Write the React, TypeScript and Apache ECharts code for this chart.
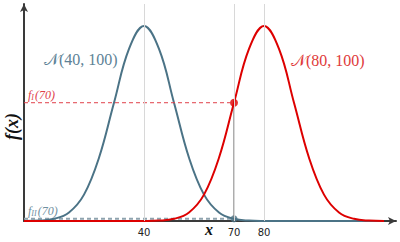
import React, { useEffect, useRef } from "react";
import * as echarts from "echarts";

const xs = [0, 5, 10, 15, 20, 25, 30, 35, 40, 45, 50, 55, 60, 65, 70, 75, 80, 85, 90, 95, 100, 105, 110, 115, 120];
const blueValues = [0.0000134, 0.0000873, 0.000443, 0.00175, 0.0054, 0.01295, 0.0242, 0.03521, 0.03989, 0.03521, 0.0242, 0.01295, 0.0054, 0.00175, 0.000443, 0.0000873, 0.0000134, 0, 0, 0, 0, 0, 0, 0, 0];
const redValues = [0, 0, 0, 0, 0, 0, 0, 0, 0.0000134, 0.0000873, 0.000443, 0.00175, 0.0054, 0.01295, 0.0242, 0.03521, 0.03989, 0.03521, 0.0242, 0.01295, 0.0054, 0.00175, 0.000443, 0.0000873, 0.0000134];
const tickLabels = [40, 70, 80];
const gridLines = [40, 70, 80];
const evalX = 70;
const fI70 = 0.0242;
const fII70 = 0.000443;

const BLUE = "#4b7386";
const RED = "#dd0000";

export default function App() {
  const ref = useRef<HTMLDivElement>(null);
  useEffect(() => {
    if (!ref.current) return;
    const chart = echarts.init(ref.current, undefined, { renderer: "svg" });
    const blueData = xs.map((x, i) => [x, blueValues[i]]);
    const redData = xs.map((x, i) => [x, redValues[i]]);
    chart.setOption({
      animation: false,
      grid: { left: 24, right: 4, top: 4, bottom: 21 },
      xAxis: {
        type: "value",
        min: 0,
        max: 124,
        axisLine: { lineStyle: { color: "#3a3a3a", width: 2 }, symbol: ["none", "arrow"], symbolSize: [6, 8] },
        axisTick: { show: false },
        splitLine: { show: false },
        axisLabel: { customValues: tickLabels, color: "#222", fontSize: 10, fontFamily: "DejaVu Sans", margin: 6 },
      },
      yAxis: {
        type: "value",
        min: 0,
        max: 0.0444,
        axisLine: { show: true, lineStyle: { color: "#3a3a3a", width: 2 }, symbol: ["none", "arrow"], symbolSize: [6, 8] },
        axisTick: { show: false },
        splitLine: { show: false },
        axisLabel: { show: false },
      },
      series: [
        {
          type: "line",
          data: [],
          markLine: {
            silent: true,
            symbol: "none",
            label: { show: false },
            lineStyle: { color: "#d8d8d8", width: 1, type: "solid" },
            data: gridLines.map((v) => ({ xAxis: v })),
          },
        },
        {
          type: "line",
          data: [[evalX, 0], [evalX, fI70]],
          showSymbol: false,
          lineStyle: { color: "#777", width: 1.2 },
        },
        {
          type: "line",
          data: [[0, fII70], [evalX, fII70]],
          showSymbol: false,
          lineStyle: { color: "#8fa3ae", width: 2, type: [4, 3] },
        },
        {
          type: "line",
          data: blueData,
          smooth: 0.4,
          showSymbol: false,
          lineStyle: { color: BLUE, width: 2 },
        },
        {
          type: "line",
          data: redData,
          smooth: 0.4,
          showSymbol: false,
          lineStyle: { color: RED, width: 2 },
        },
        {
          type: "line",
          data: [[0, fI70], [evalX, fI70]],
          showSymbol: false,
          lineStyle: { color: "#e0404a", width: 1, type: [4, 3] },
        },
        {
          type: "scatter",
          data: [[evalX, fII70]],
          symbolSize: 7,
          itemStyle: { color: BLUE },
        },
        {
          type: "scatter",
          data: [[evalX, fI70]],
          symbolSize: 8,
          itemStyle: { color: RED },
        },
      ],
      graphic: [
        {
          type: "text",
          x: 44,
          y: 51,
          style: { text: "𝒩(40, 100)", fill: "#5d8296", font: "16px 'Liberation Serif', 'DejaVu Serif', serif" },
        },
        {
          type: "text",
          x: 291,
          y: 52,
          style: { text: "𝒩(80, 100)", fill: "#e03a3a", font: "16px 'Liberation Serif', 'DejaVu Serif', serif" },
        },
        {
          type: "text",
          x: 28,
          y: 88,
          style: {
            text: "{f|f}{s|I}{n|(70)}",
            rich: {
              f: { fill: "#e04048", font: "italic 12px 'Liberation Serif', serif" },
              s: { fill: "#e04048", font: "italic 8px 'Liberation Serif', serif", padding: [5, 1, 0, 0] },
              n: { fill: "#e04048", font: "italic 12px 'Liberation Serif', serif" },
            },
          },
        },
        {
          type: "text",
          x: 28,
          y: 204,
          style: {
            text: "{f|f}{s|II}{n|(70)}",
            rich: {
              f: { fill: "#6f8fa0", font: "italic 12px 'Liberation Serif', serif" },
              s: { fill: "#6f8fa0", font: "italic 8px 'Liberation Serif', serif", padding: [5, 1, 0, 0] },
              n: { fill: "#6f8fa0", font: "italic 12px 'Liberation Serif', serif" },
            },
          },
        },
        {
          type: "text",
          x: 205,
          y: 221,
          style: { text: "x", fill: "#111", font: "italic bold 16px 'Liberation Serif', serif" },
        },
        {
          type: "text",
          x: 3,
          y: 140,
          rotation: Math.PI / 2,
          style: { text: "f(x)", fill: "#111", font: "italic bold 18px 'Liberation Serif', serif" },
        },
      ],
    });
    return () => chart.dispose();
  }, []);
  return <div ref={ref} style={{ width: 400, height: 242, position: "absolute", left: 0, top: 0 }} />;
}
